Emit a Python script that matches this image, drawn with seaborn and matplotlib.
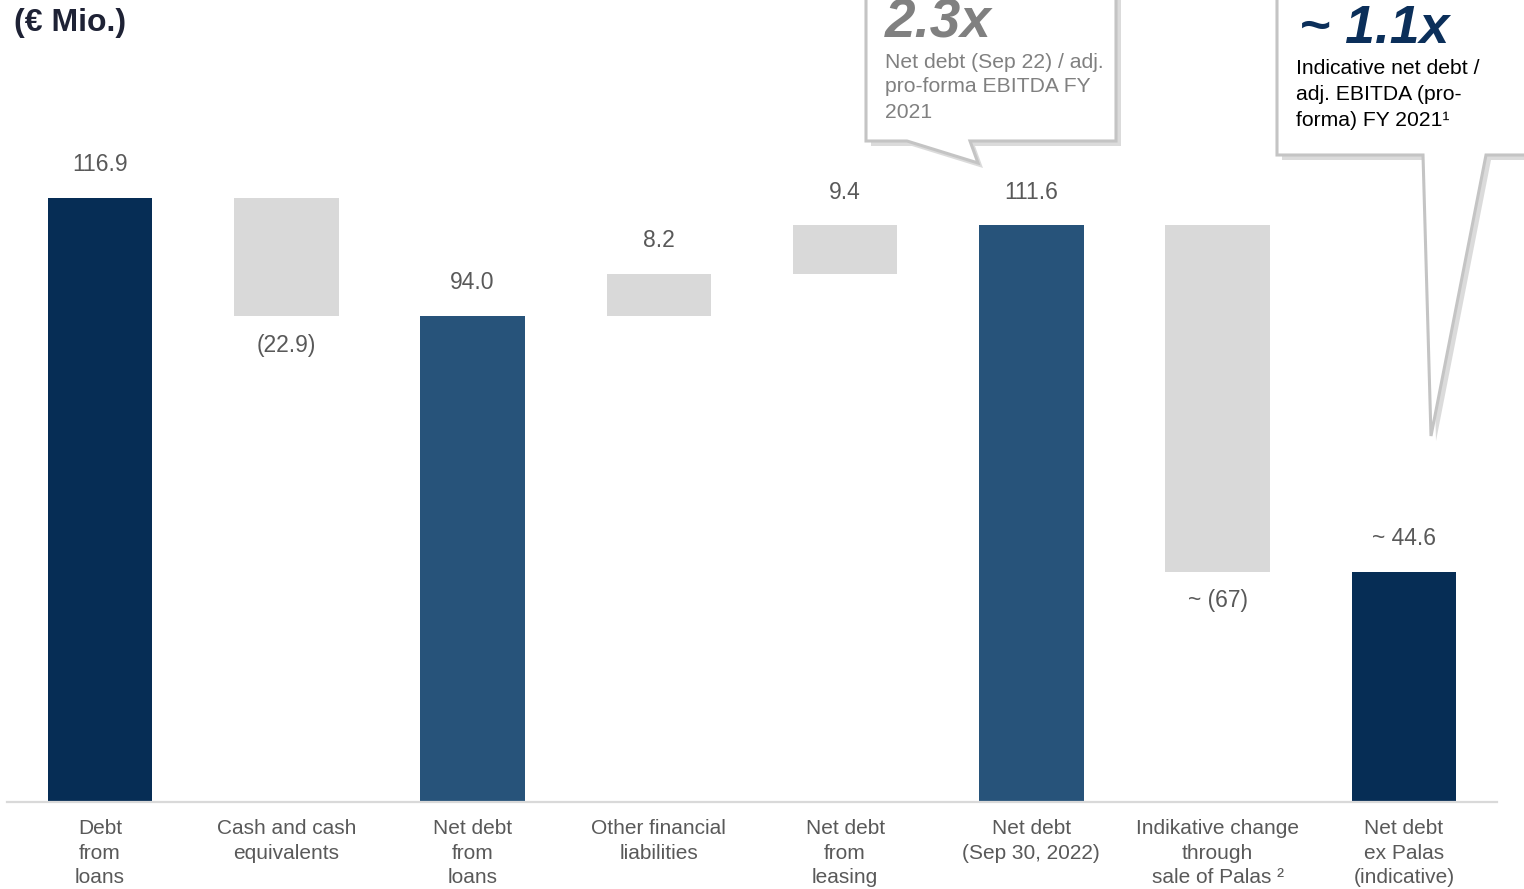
import numpy as np
import pandas as pd
import matplotlib
matplotlib.use("Agg")
import matplotlib.pyplot as plt
from matplotlib.patches import Polygon
import seaborn as sns

# ---------------- data ----------------
categories = ["Debt\nfrom\nloans", "Cash and cash\nequivalents", "Net debt\nfrom\nloans",
              "Other financial\nliabilities", "Net debt\nfrom\nleasing", "Net debt\n(Sep 30, 2022)",
              "Indikative change\nthrough\nsale of Palas \u00b2", "Net debt\nex Palas\n(indicative)"]
bar_base = [0.0, 94.0, 0.0, 94.0, 102.2, 0.0, 44.6, 0.0]
bar_top = [116.9, 116.9, 94.0, 102.2, 111.6, 111.6, 111.6, 44.6]
value_labels = ["116.9", "(22.9)", "94.0", "8.2", "9.4", "111.6", "~ (67)", "~ 44.6"]
label_below = [False, True, False, False, False, False, True, False]
bar_kind = ["total_dark", "change", "total_mid", "change", "change", "total_mid", "change", "total_dark"]

callout1_head = "2.3x"
callout1_lines = ["Net debt (Sep 22) / adj.", "pro-forma EBITDA FY", "2021"]
callout2_head = "~ 1.1x"
callout2_lines = ["Indicative net debt /", "adj. EBITDA (pro-", "forma) FY 2021\u00b9"]
title = "(\u20ac Mio.)"

kind_colors = {"total_dark": "#062D55", "total_mid": "#27537A", "change": "#D9D9D9"}

# ---------------- figure ----------------
sns.set_theme(style="white")
plt.rcParams['font.family'] = ['Liberation Sans', 'DejaVu Sans']

W, H = 1524, 889
fig = plt.figure(figsize=(W / 100, H / 100), dpi=100)
fig.patch.set_facecolor("white")

ax = fig.add_axes([7 / W, 87 / H, 1490 / W, 802 / H])
df = pd.DataFrame({"cat": categories, "top": bar_top, "base": bar_base, "kind": bar_kind})
palette = [kind_colors[k] for k in bar_kind]
sns.barplot(data=df, x="cat", y="top", hue="cat", palette=palette, legend=False,
            width=0.56, ax=ax, saturation=1, linewidth=0)

# turn totals into floating waterfall segments
for p, b, t, k in zip(ax.patches, bar_base, bar_top, bar_kind):
    p.set_y(b)
    p.set_height(t - b)
    p.set_facecolor(kind_colors[k])
    p.set_edgecolor("none")

ax.set_xlim(-0.5, 7.5)
ax.set_ylim(0, 802 / 5.167)
ax.set_xlabel("")
ax.set_ylabel("")
ax.set_yticks([])
for s in ["left", "right", "top"]:
    ax.spines[s].set_visible(False)
ax.spines["bottom"].set_color("#D9D9D9")
ax.spines["bottom"].set_linewidth(1.6)
ax.tick_params(axis="x", length=0, pad=12.5, labelsize=15, labelcolor="#595959")
for lbl in ax.get_xticklabels():
    lbl.set_linespacing(1.36)

# value labels
for i, (b, t, txt, below) in enumerate(zip(bar_base, bar_top, value_labels, label_below)):
    if below:
        ax.annotate(txt, (i, b), xytext=(0, -21), textcoords="offset points",
                    ha="center", va="center", fontsize=16.5, color="#595959")
    else:
        ax.annotate(txt, (i, t), xytext=(0, 24), textcoords="offset points",
                    ha="center", va="center", fontsize=16.5, color="#595959")

# ---------------- overlay for title + callouts (pixel coordinates) ----------------
ov = fig.add_axes([0, 0, 1, 1], zorder=5)
ov.set_xlim(0, W)
ov.set_ylim(H, 0)
ov.axis("off")

ov.text(14, 23, title, fontsize=23, fontweight="bold", color="#1E2235", ha="left", va="center")

def callout(pts, shadow_off=5):
    sh = [(x + shadow_off, y + shadow_off) for x, y in pts]
    ov.add_patch(Polygon(sh, closed=True, facecolor="#9A9A9A", edgecolor="none", alpha=0.35))
    ov.add_patch(Polygon(pts, closed=True, facecolor="white", edgecolor="#C4C4C4", linewidth=2.2))

callout([(866, -20), (1116, -20), (1116, 141), (970, 141), (978, 163), (907, 141), (866, 141)])
callout([(1277, -20), (1540, -20), (1540, 155), (1486, 155), (1431, 436), (1423, 155), (1277, 155)])

ov.text(885, 37, callout1_head, fontsize=39.5, fontweight="bold", fontstyle="italic",
        color="#808080", ha="left", va="baseline")
for j, line in enumerate(callout1_lines):
    ov.text(885, 62 + 25 * j, line, fontsize=15.2, color="#808080", ha="left", va="center")

ov.text(1299, 43, callout2_head, fontsize=38.5, fontweight="bold", fontstyle="italic",
        color="#0B2F5A", ha="left", va="baseline")
for j, line in enumerate(callout2_lines):
    ov.text(1296, 69 + 25.5 * j, line, fontsize=15.2, color="#000000", ha="left", va="center")

fig.savefig("out.png", dpi=100, facecolor="white")
